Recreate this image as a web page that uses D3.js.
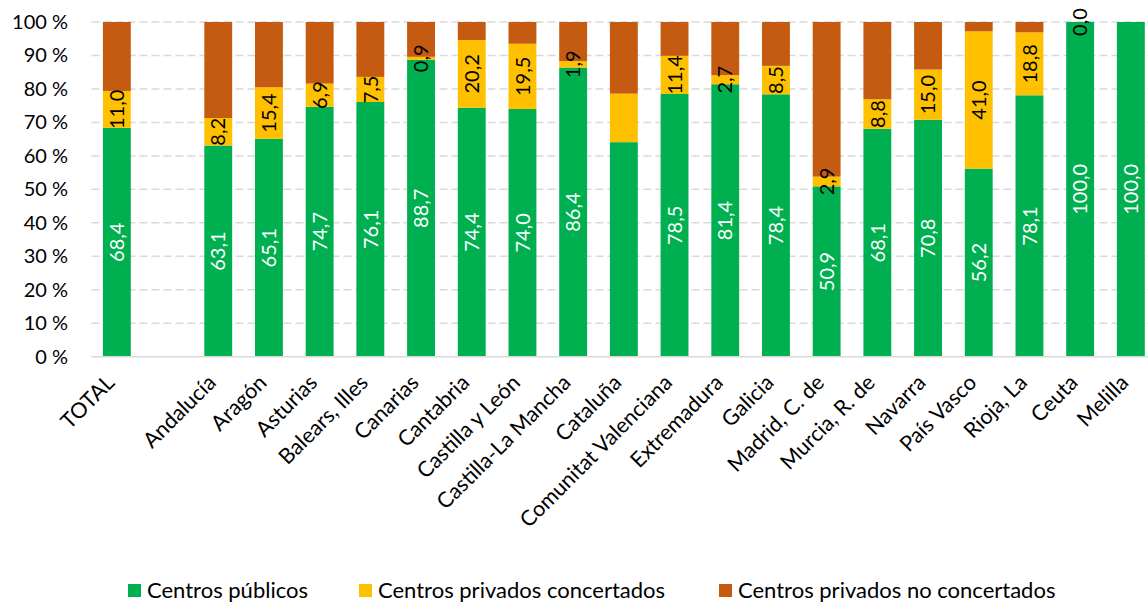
<!DOCTYPE html>
<html>
<head>
<meta charset="utf-8">
<script src="https://cdn.jsdelivr.net/npm/d3@7"></script>
<style>
  body { margin: 0; background: #fff; }
  svg { font-family: Lato, "Open Sans", sans-serif; }
</style>
</head>
<body>
<svg id="chart" width="1148" height="604"></svg>
<script>
// categories (the empty one is the gap after TOTAL)
var categories = ["TOTAL", "", "Andalucía", "Aragón", "Asturias", "Balears, Illes", "Canarias", "Cantabria",
    "Castilla y León", "Castilla-La Mancha", "Cataluña", "Comunitat Valenciana", "Extremadura", "Galicia",
    "Madrid, C. de", "Murcia, R. de", "Navarra", "País Vasco", "Rioja, La", "Ceuta", "Melilla"];

var publicos      = [68.4, null, 63.1, 65.1, 74.7, 76.1, 88.7, 74.4, 74.0, 86.4, 64.1, 78.5, 81.4, 78.4, 50.9, 68.1, 70.8, 56.2, 78.1, 100.0, 100.0];
var concertados   = [11.0, null,  8.2, 15.4,  6.9,  7.5,  0.9, 20.2, 19.5,  1.9, 14.5, 11.4,  2.7,  8.5,  2.9,  8.8, 15.0, 41.0, 18.8,   0.0,  null];
var noConcertados = [20.6, null, 28.7, 19.5, 18.4, 16.4, 10.4,  5.4,  6.5, 11.7, 21.4, 10.1, 15.9, 13.1, 46.2, 23.1, 14.2,  2.8,  3.1,   0.0,   0.0];

// categories whose bars carry no data labels
var unlabelled = ["Cataluña"];

var yTicks = [0, 10, 20, 30, 40, 50, 60, 70, 80, 90, 100];

var seriesNames = ["Centros públicos", "Centros privados concertados", "Centros privados no concertados"];
var seriesColors = ["#00B050", "#FFC000", "#C55A11"];
var labelColors = ["#FFFFFF", "#000000", null];

var svg = d3.select("#chart");

var x = d3.scaleBand()
    .domain(d3.range(categories.length))
    .range([91.5, 1156.2])
    .paddingInner(0.45)
    .paddingOuter(0.225);

var y = d3.scaleLinear()
    .domain([0, 100])
    .range([356.7, 22]);

// gridlines
svg.append("g")
    .selectAll("line")
    .data(yTicks.filter(d => d > 0))
    .enter().append("line")
    .attr("x1", 91.5)
    .attr("x2", 1156)
    .attr("y1", d => y(d))
    .attr("y2", d => y(d))
    .attr("stroke", "#D9D9D9")
    .attr("stroke-width", 1.5)
    .attr("stroke-dasharray", "8,4");

// y axis labels
var yAxis = d3.axisLeft(y)
    .tickValues(yTicks)
    .tickSize(0)
    .tickPadding(0)
    .tickFormat(d => d + " %");

svg.append("g")
    .attr("transform", "translate(68,0)")
    .call(yAxis)
    .call(g => g.select(".domain").remove())
    .selectAll("text")
    .attr("font-size", "20px")
    .attr("font-family", "Lato, sans-serif")
    .attr("fill", "#000");

// build stacked rows
var rows = categories.map((c, i) => ({
    cat: c,
    i: i,
    vals: [publicos[i], concertados[i], noConcertados[i]]
}));

var stackData = rows.map(r => {
    var acc = 0;
    return r.vals.map((v, s) => {
        var y0 = acc;
        acc += (v || 0);
        return {row: r, s: s, v: v, y0: y0, y1: acc};
    });
});

var segs = [].concat.apply([], stackData).filter(d => d.row.cat !== "");

svg.append("g")
    .selectAll("rect")
    .data(segs)
    .enter().append("rect")
    .attr("x", d => x(d.row.i))
    .attr("width", x.bandwidth())
    .attr("y", d => y(d.y1))
    .attr("height", d => y(d.y0) - y(d.y1))
    .attr("fill", d => seriesColors[d.s]);

// x axis line
svg.append("line")
    .attr("x1", 91.5)
    .attr("x2", 1156)
    .attr("y1", y(0))
    .attr("y2", y(0))
    .attr("stroke", "#D9D9D9")
    .attr("stroke-width", 1.5);

// data labels
var fmt = v => v.toFixed(1).replace(".", ",");

svg.append("g")
    .selectAll("text")
    .data(segs.filter(d => labelColors[d.s] && d.v != null && unlabelled.indexOf(d.row.cat) < 0))
    .enter().append("text")
    .attr("transform", d => "translate(" + (x(d.row.i) + x.bandwidth() / 2) + "," + y((d.y0 + d.y1) / 2) + ") rotate(-90)")
    .attr("text-anchor", "middle")
    .attr("dy", "0.36em")
    .attr("font-size", "20px")
    .attr("fill", d => labelColors[d.s])
    .text(d => fmt(d.v));

// category labels
svg.append("g")
    .selectAll("text")
    .data(rows.filter(r => r.cat !== ""))
    .enter().append("text")
    .attr("transform", r => "translate(" + (x(r.i) + x.bandwidth() / 2 - 1) + "," + 384 + ") rotate(-45)")
    .attr("text-anchor", "end")
    .attr("font-size", "21.5px")
    .attr("fill", "#000")
    .text(r => r.cat);

// legend
var legendX = [128, 359, 719];
var legend = svg.append("g")
    .selectAll("g")
    .data(seriesNames)
    .enter().append("g")
    .attr("transform", (d, i) => "translate(" + legendX[i] + ",584)");

legend.append("rect")
    .attr("width", 13)
    .attr("height", 13)
    .attr("fill", (d, i) => seriesColors[i]);

legend.append("text")
    .attr("x", 19)
    .attr("y", 14)
    .attr("font-size", "22px")
    .attr("fill", "#000")
    .text(d => d);
</script>
</body>
</html>
